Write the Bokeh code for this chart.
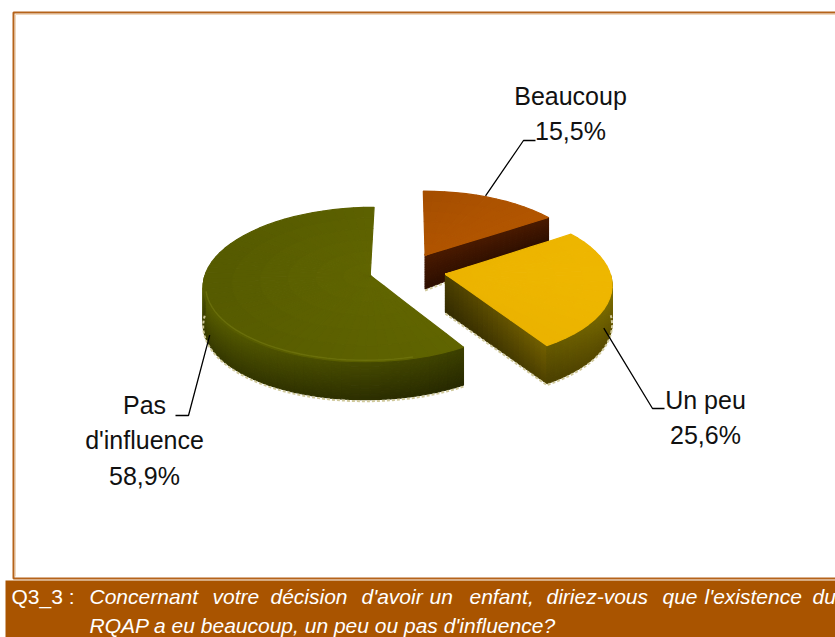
import math
from bokeh.plotting import figure
from bokeh.embed import file_html
from bokeh.resources import INLINE
from bokeh.core.properties import value

categories = ["Beaucoup", "Un peu", "Pas d'influence"]
values = [15.5, 25.6, 58.9]
label_lines = [["Beaucoup"], ["Un peu"], ["Pas", "d'influence"]]
caption_tag = "Q3_3 :"
caption_line1 = ["Concernant", "votre", "décision", "d'avoir", "un", "enfant,", "diriez-vous", "que", "l'existence", "du"]
caption_line2 = "RQAP a eu beaucoup, un peu ou pas d'influence?"

W, H = 835, 637
p = figure(width=W, height=H, x_range=(0, 835), y_range=(637, 0), output_backend="svg",
           toolbar_location=None, min_border=0, outline_line_color=None,
           background_fill_color="white", border_fill_color="white")
p.axis.visible = False
p.grid.visible = False

# --- projection
CX, CY, A, B, K, E, D = 407.0, 270.0, 164.0, 75.0, 0.117, 0.235, 38.0


def proj(theta, r, mid):
    """theta/mid in degrees clockwise from the top, r in units of the radius."""
    u = r * math.sin(math.radians(theta)) + E * math.sin(math.radians(mid))
    v = r * math.cos(math.radians(theta)) + E * math.cos(math.radians(mid))
    s = 1 / (1 + K * v)
    return CX + A * u * s, CY - B * v * s, min(1.0, s) ** 5 * D


def hexc(c):
    return "#%02x%02x%02x" % tuple(max(0, min(255, int(round(x)))) for x in c)


def mix(a, b, t):
    return [a[i] + (b[i] - a[i]) * t for i in range(3)]


xs, ys, cols = [], [], []


def add(poly, col):
    xs.append([q[0] for q in poly])
    ys.append([q[1] for q in poly])
    cols.append(col)


def flush():
    global xs, ys, cols
    if xs:
        p.patches(xs, ys, fill_color=cols, line_color=cols, line_width=1.2)
    xs, ys, cols = [], [], []


# --- slices, clockwise from 12 o'clock
edges = [0.0]
for val in values:
    edges.append(edges[-1] + val / sum(values) * 360)
mids = [(edges[i] + edges[i + 1]) / 2 for i in range(3)]

top_cols = [((0x8a, 0x3e, 0x00), (0xbd, 0x5c, 0x00)),
            ((0xd9, 0x9f, 0x00), (0xf2, 0xbb, 0x00)),
            ((0x52, 0x57, 0x00), (0x66, 0x6a, 0x00))]
side_cols = [((0x50, 0x1e, 0x00), (0x30, 0x10, 0x00)),
             ((0x80, 0x70, 0x00), (0x5e, 0x50, 0x00)),
             ((0x55, 0x5a, 0x00), (0x35, 0x38, 0x00))]
cut_cols = [((0x4a, 0x1b, 0x00), (0x2c, 0x0e, 0x00)),
            ((0x60, 0x50, 0x00), (0x40, 0x36, 0x00)),
            ((0x40, 0x40, 0x00), (0x30, 0x30, 0x00))]
fringe = "#cfc89a"
LAYERS = 14


def draw_face(pts, c0, c1, shade=None):
    for i in range(len(pts) - 1):
        f = shade(i / max(1, len(pts) - 2)) if shade else 1.0
        for j in range(LAYERS):
            t0, t1 = j / LAYERS, (j + 1) / LAYERS
            a, b = pts[i], pts[i + 1]
            col = hexc([x * f for x in mix(c0, c1, t0)])
            add([(a[0], a[1] + a[2] * t0), (b[0], b[1] + b[2] * t0),
                 (b[0], b[1] + b[2] * t1), (a[0], a[1] + a[2] * t1)], col)


for idx in range(3):
    t0, t1, mid = edges[idx], edges[idx + 1], mids[idx]
    n = max(8, int((t1 - t0) / 4))
    fringe_pts = []

    # radial cut face seen from the front
    vis_edge = {0: t1, 1: t1}.get(idx)
    if vis_edge is not None:
        cut = [proj(vis_edge, k / 20, mid) for k in range(21)]
        draw_face(cut, cut_cols[idx][0], cut_cols[idx][1],
                  (lambda q: 0.8 + 0.4 * q) if idx == 1 else None)
        fringe_pts += [(q[0], q[1] + q[2] + 1.5) for q in cut]

    # outer rim, only where it turns towards the viewer
    a0, a1 = max(t0, 90.0), min(t1, 270.0)
    if a1 > a0:
        m = max(6, int((a1 - a0) / 3))
        rim = [proj(a0 + (a1 - a0) * k / m, 1.0, mid) for k in range(m + 1)]
        if idx == 2:
            shade = lambda q: 0.72 + 0.38 * q
        else:
            shade = lambda q: 1.05 - 0.25 * q
        draw_face(rim, side_cols[idx][0], side_cols[idx][1], shade)
        arc = [(q[0], q[1] + q[2] + 1.5) for q in rim]
        fringe_pts += list(reversed(arc)) if idx == 1 else arc

    # top face
    for i in range(n):
        ta, tb = t0 + (t1 - t0) * i / n, t0 + (t1 - t0) * (i + 1) / n
        for j in range(6):
            ra, rb = j / 6, (j + 1) / 6
            pa, pb, pc, pd = proj(ta, ra, mid), proj(tb, ra, mid), proj(tb, rb, mid), proj(ta, rb, mid)
            tm = math.radians((ta + tb) / 2)
            light = 0.5 + 0.5 * (0.7 * math.sin(tm) * (ra + rb) / 2 + 0.5 * (1 - (ra + rb) / 2))
            add([pa[:2], pb[:2], pc[:2], pd[:2]], hexc(mix(top_cols[idx][0], top_cols[idx][1], light)))
    flush()

    if fringe_pts:
        p.line([q[0] for q in fringe_pts], [q[1] for q in fringe_pts],
               line_color=fringe, line_width=2, line_dash="3 2")

    # soft highlight on the front bevel of the largest slice
    if idx == 2:
        arc = [proj(165 + k * 3, 0.985, mid) for k in range(32)]
        p.line([q[0] for q in arc], [q[1] for q in arc], line_color="#757a10",
               line_width=1.4, line_alpha=0.6)

# --- leader lines, starting on the rim at the middle of each slice
label_elbows = [(523, 140, 535), (652, 408, 664), (188, 415, 175)]
label_pos = [(570, 95), (705, 399), (144, 404)]
LINE_STEP = 35.5
for idx in range(3):
    ax, ay, ad = proj(mids[idx], 1.0, mids[idx])
    ex, ey, hx = label_elbows[idx]
    start_y = ay - 2 if idx == 0 else ay + ad
    start_x = ax - 6 if idx == 0 else (ax - 8 if idx == 1 else ax + 5)
    p.line([start_x, ex, hx], [start_y, ey, ey], line_color="black", line_width=1.3)
    lines = label_lines[idx] + [f"{values[idx]:.1f}%".replace(".", ",")]
    lx, ly = label_pos[idx]
    for k, txt in enumerate(lines):
        p.text([lx], [ly + k * LINE_STEP], text=[txt], text_font=value("Liberation Sans"),
               text_font_size="25px", text_color="#111111", text_align="center", text_baseline="middle")

# --- frame and caption band
BAND = "#a95400"
p.line([835, 13, 13, 835], [12, 12, 578, 578], line_color="#b5631a", line_width=2)
p.line([835, 15, 15], [14, 14, 576], line_color="#f0d8bc", line_width=1)
p.quad(left=[5], right=[835], top=[580], bottom=[637], fill_color=BAND, line_color=None)

p.text([11], [596], text=[caption_tag], text_font=value("Liberation Sans"), text_font_size="21px",
       text_color="white", text_baseline="middle")
word_x = [89, 212, 270, 361, 429, 469, 546, 662, 704, 812]
p.text(word_x, [596] * len(word_x), text=caption_line1, text_font=value("Liberation Sans"),
       text_font_size="21px", text_font_style="italic", text_color="white", text_baseline="middle")
p.text([89], [625], text=[caption_line2], text_font=value("Liberation Sans"), text_font_size="21px",
       text_font_style="italic", text_color="white", text_baseline="middle")

open("out.html", "w").write(file_html(p, INLINE))
